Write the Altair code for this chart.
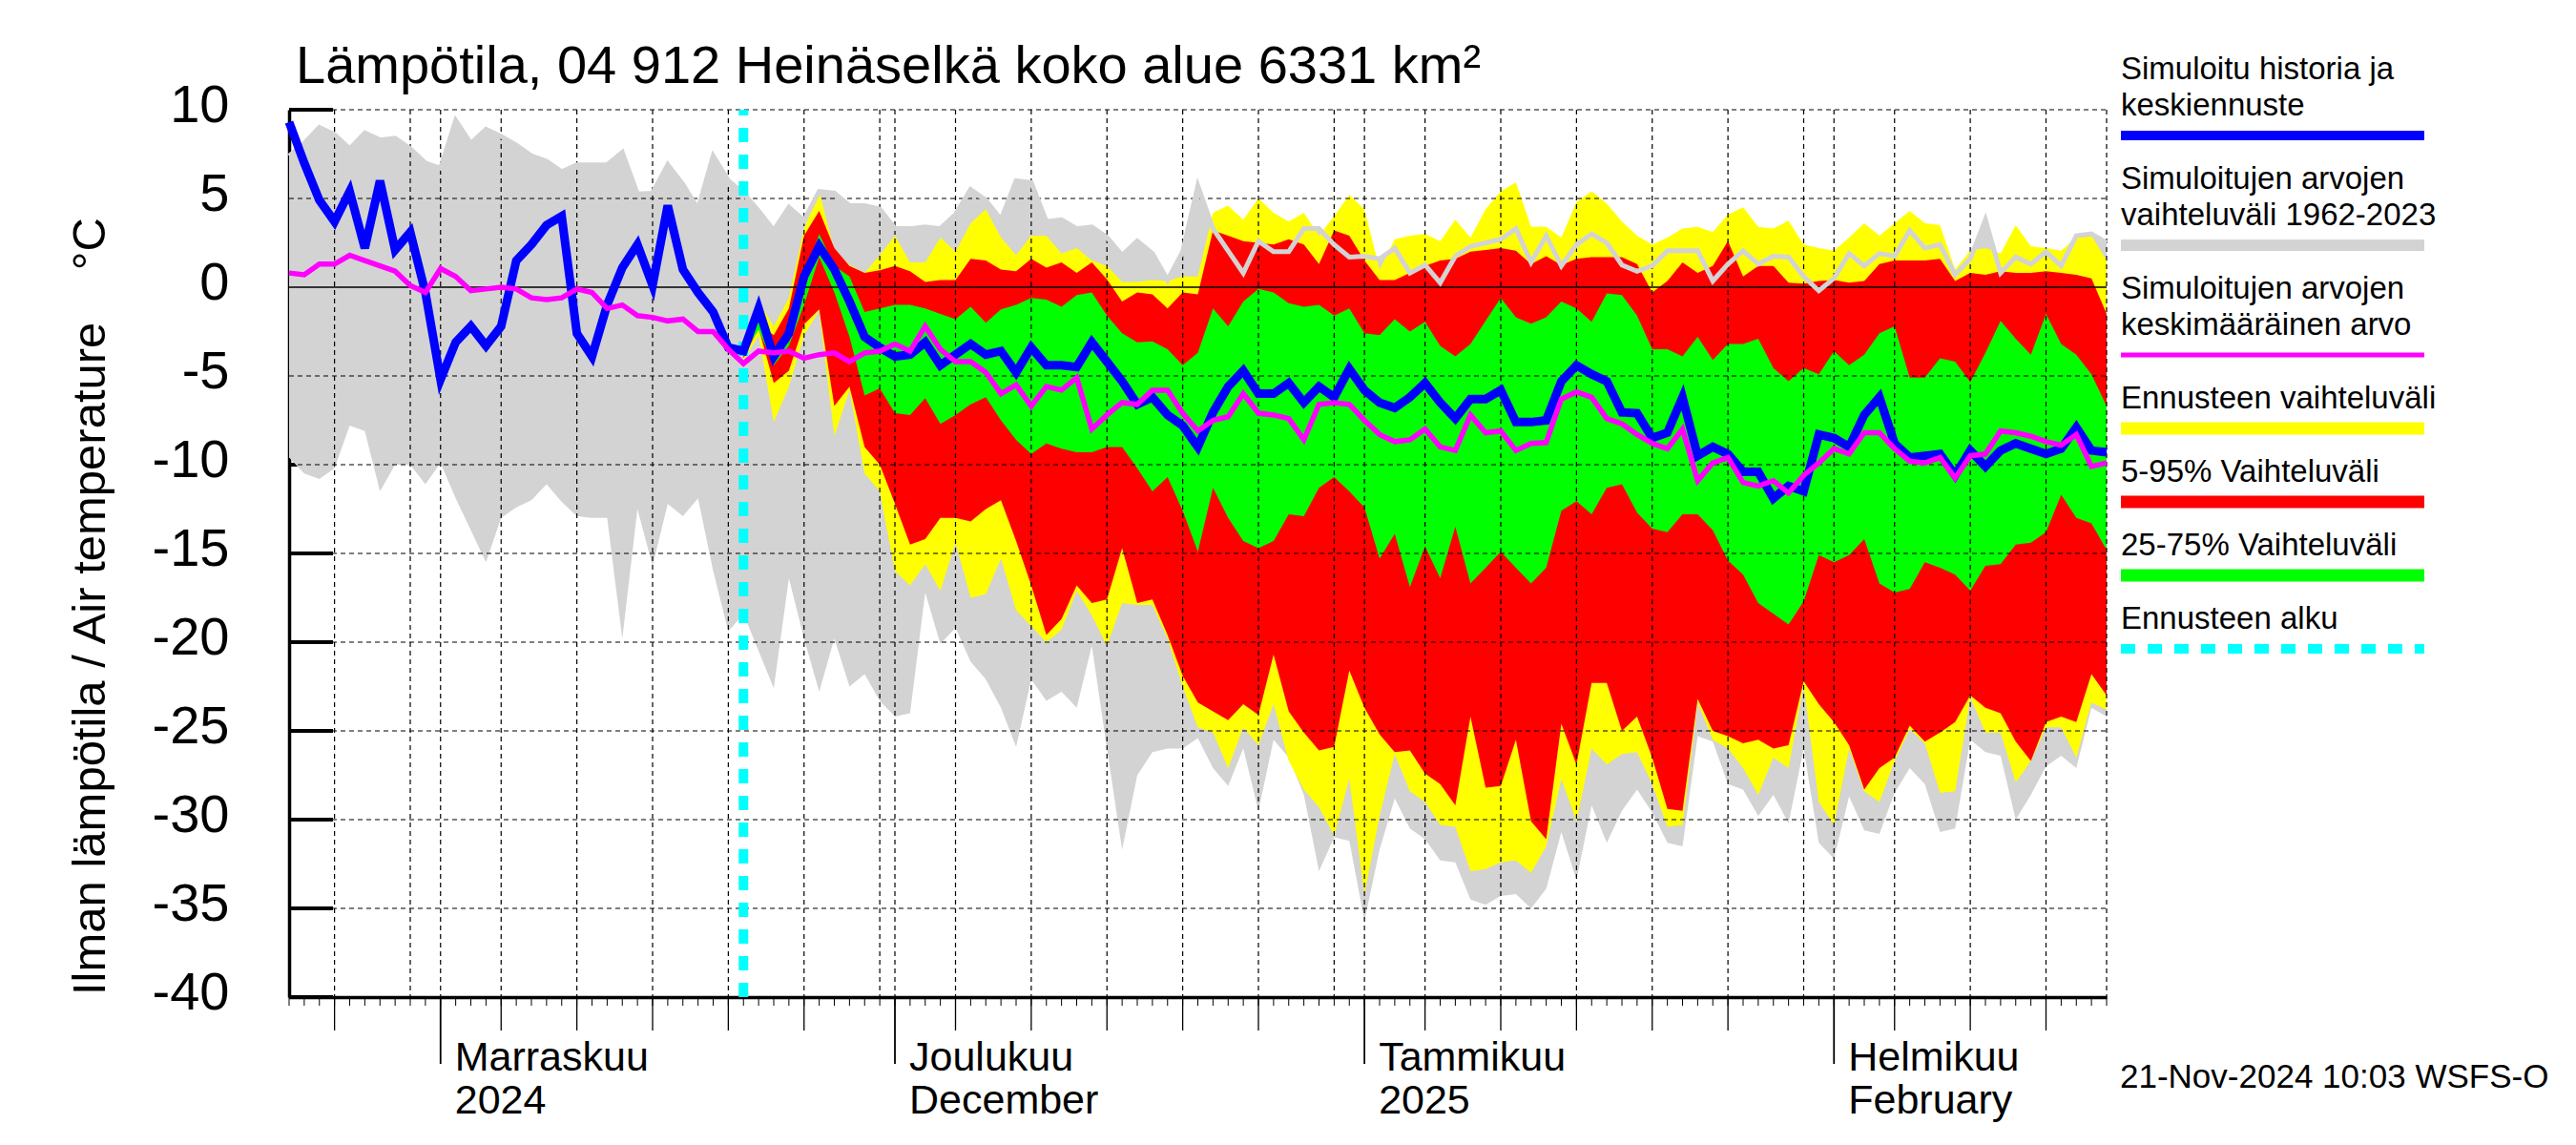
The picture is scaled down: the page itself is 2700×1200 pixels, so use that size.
import altair as alt
import pandas as pd

# ---------------- data ----------------
START = "2024-10-22"
N_DAYS = 121          # 2024-10-22 .. 2025-02-19
FC_START = 30         # index of 2024-11-21 (forecast start)

title_text = "Lämpötila, 04 912 Heinäselkä koko alue 6331 km²"
ytitle_text = "Ilman lämpötila / Air temperature\u00a0\u00a0\u00a0\u00a0°C"
stamp_text = "21-Nov-2024 10:03 WSFS-O"

# historical range 1962-2023 (upper / lower)
hist_max = [7.4, 8.1, 9.0, 8.6, 7.8, 8.7, 8.3, 8.4, 7.8, 7.0,
            6.7, 9.4, 8.1, 8.9, 8.5, 8.0, 7.4, 7.1, 6.5, 6.9,
            6.9, 6.9, 7.6, 5.25, 5.3, 6.9, 5.8, 4.4, 7.4, 6.0,
            5.3, 4.3, 3.2, 4.5, 3.75, 5.4, 5.3, 4.6, 4.6, 4.4,
            3.3, 3.3, 3.4, 3.3, 4.1, 5.5, 4.9, 3.8, 6.0, 5.9,
            3.7, 3.8, 3.3, 3.4, 2.8, 1.8, 2.6, 1.9, 0.4, 2.0,
            5.7, 3.3, 2.05, 0.8, 2.6, 2.0, 2.0, 3.3, 3.3, 2.4,
            1.7, 1.75, 1.6, 2.2, 0.8, 1.25, 0.25, 1.75, 2.3, 2.5,
            2.7, 3.3, 1.4, 2.9, 1.2, 2.4, 3.0, 2.5, 1.25, 0.9,
            1.2, 2.05, 2.05, 2.05, 0.35, 1.3, 2.05, 1.3, 1.75, 1.7,
            0.6, -0.2, 0.5, 1.9, 1.2, 1.9, 1.75, 3.2, 2.2, 2.4,
            0.7, 1.6, 3.8, 0.8, 1.7, 1.3, 2.0, 1.2, 2.9, 3.0,
            2.5]
hist_min = [-9.6, -10.5, -10.8, -10.2, -7.8, -8.1, -11.5, -10.0, -10.0, -11.1,
            -9.9, -11.9, -13.7, -15.5, -13.0, -12.4, -12.0, -11.1, -12.1, -12.9,
            -13.0, -13.0, -19.8, -12.5, -15.7, -12.2, -12.9, -11.9, -16.0, -19.4,
            -18.4, -20.5, -22.6, -16.4, -19.8, -22.8, -19.8, -22.5, -21.8, -23.3,
            -24.2, -24.0, -17.2, -20.1, -19.2, -21.1, -22.1, -23.7, -25.9, -22.1,
            -23.3, -22.8, -23.7, -20.2, -26.0, -31.7, -27.5, -26.2, -26.0, -26.0,
            -25.4, -27.1, -28.1, -26.0, -29.5, -25.5, -26.5, -28.6, -32.9, -31.0,
            -31.2, -35.7, -31.7, -28.8, -30.5, -31.1, -32.3, -32.4, -34.5, -34.8,
            -34.3, -34.2, -35.0, -33.9, -30.7, -33.4, -29.2, -31.3, -29.5, -28.3,
            -29.6, -31.3, -31.5, -25.3, -25.6, -28.0, -28.3, -29.8, -28.6, -30.2,
            -26.0, -31.3, -32.2, -28.7, -30.6, -30.8, -28.5, -27.1, -28.0, -30.7,
            -30.5, -25.5, -26.2, -26.4, -30.0, -28.6, -27.0, -26.4, -27.1, -23.7,
            -24.2]
# simulated history + median forecast
blue = [9.3, 7.0, 4.9, 3.7, 5.4, 2.2, 6.0, 2.1, 3.1, -0.3,
        -5.2, -3.1, -2.2, -3.3, -2.2, 1.5, 2.4, 3.5, 4.0, -2.6,
        -3.9, -1.0, 1.1, 2.4, 0.1, 4.6, 1.0, -0.3, -1.4, -3.4,
        -3.6, -1.2, -3.9, -2.6, 0.6, 2.3, 1.0, -0.8, -2.8, -3.4,
        -3.9, -3.8, -3.1, -4.4, -3.8, -3.2, -3.8, -3.6, -4.8, -3.4,
        -4.4, -4.4, -4.5, -3.1, -4.2, -5.3, -6.6, -6.2, -7.2, -7.8,
        -9.0, -7.05, -5.6, -4.7, -6.0, -6.0, -5.4, -6.5, -5.6, -6.2,
        -4.6, -5.8, -6.5, -6.8, -6.2, -5.4, -6.5, -7.4, -6.3, -6.3,
        -5.8, -7.6, -7.6, -7.5, -5.3, -4.4, -4.9, -5.3, -7.05, -7.1,
        -8.5, -8.2, -6.2, -9.5, -9.0, -9.4, -10.4, -10.4, -11.9, -11.2,
        -11.5, -8.3, -8.5, -9.0, -7.2, -6.2, -8.8, -9.6, -9.5, -9.4,
        -10.6, -9.2, -10.1, -9.2, -8.8, -9.1, -9.4, -9.1, -7.9, -9.2,
        -9.3]
# long-term mean of simulated values
magenta = [0.8, 0.7, 1.3, 1.3, 1.8, 1.5, 1.2, 0.9, 0.1, -0.3,
           1.05, 0.6, -0.2, -0.1, 0.0, -0.1, -0.6, -0.7, -0.6, -0.1,
           -0.3, -1.2, -1.0, -1.6, -1.7, -1.9, -1.8, -2.5, -2.5, -3.5,
           -4.3, -3.6, -3.7, -3.6, -4.0, -3.8, -3.7, -4.2, -3.7, -3.6,
           -3.2, -3.6, -2.2, -3.5, -4.2, -4.2, -4.8, -6.0, -5.5, -6.7,
           -5.6, -5.8, -5.1, -8.0, -7.2, -6.5, -6.6, -5.8, -5.8, -7.1,
           -8.1, -7.5, -7.3, -6.0, -7.1, -7.2, -7.4, -8.6, -6.6, -6.5,
           -6.6, -7.5, -8.3, -8.7, -8.6, -8.0, -9.0, -9.2, -7.2, -8.2,
           -8.1, -9.2, -8.8, -8.75, -6.3, -5.9, -6.2, -7.4, -7.7, -8.3,
           -8.8, -9.1, -8.0, -10.9, -9.9, -9.6, -11.0, -11.2, -10.9, -11.6,
           -10.6, -9.9, -9.1, -9.4, -8.2, -8.2, -9.1, -9.8, -9.9, -9.6,
           -10.75, -9.5, -9.4, -8.1, -8.2, -8.4, -8.7, -8.9, -8.3, -10.1,
           -9.9]
# forecast bands, from 2024-11-21 on
yel_hi = [-3.0, -0.8, -2.2, -0.6, 3.3, 5.4, 2.05, 1.25, 0.8, 1.8,
          2.9, 1.4, 1.4, 2.8, 2.0, 3.6, 4.4, 2.8, 1.8, 2.9,
          2.9, 1.9, 2.2, 1.5, 1.2, 0.3, 0.3, 0.4, 0.35, 0.6,
          0.6, 4.2, 4.6, 3.8, 5.0, 4.2, 3.7, 4.2, 2.9, 4.0,
          5.2, 4.4, 1.0, 2.7, 2.9, 3.0, 2.6, 3.8, 2.8, 4.4,
          5.4, 5.9, 3.4, 3.4, 2.8, 4.8, 5.4, 4.7, 3.7, 2.9,
          2.4, 2.8, 3.3, 3.4, 3.1, 4.1, 4.5, 3.4, 3.3, 3.75,
          2.4, 2.2, 2.05, 2.8, 3.6, 2.9, 3.6, 4.3, 3.6, 3.5,
          1.0, 2.05, 2.2, 1.9, 3.5, 2.3, 2.2, 2.05, 2.8, 2.9,
          1.5]
yel_lo = [-4.2, -2.7, -7.6, -5.6, -2.7, -1.3, -8.4, -5.8, -10.5, -11.5,
          -16.0, -16.8, -15.6, -17.1, -14.4, -17.5, -17.3, -15.3, -18.2, -19.1,
          -20.0, -19.3, -17.1, -18.5, -20.2, -17.8, -17.9, -17.9, -19.8, -22.5,
          -24.8, -25.1, -27.1, -24.8, -25.8, -23.5, -26.7, -28.3, -29.3, -30.9,
          -27.7, -34.2, -29.8, -26.3, -28.4, -29.0, -30.3, -30.4, -32.9, -32.8,
          -32.4, -32.3, -33.0, -31.5, -27.7, -30.1, -26.0, -26.9, -26.3, -26.2,
          -28.0, -30.4, -30.3, -23.4, -25.5, -26.0, -27.1, -28.6, -26.5, -27.1,
          -22.4, -29.0, -30.3, -26.0, -28.4, -29.0, -26.7, -24.9, -25.7, -28.5,
          -28.4, -23.1, -25.1, -25.1, -27.9, -26.7, -24.8, -24.8, -26.5, -23.4,
          -23.8]
red_hi = [-3.3, -2.1, -2.7, -1.2, 2.9, 4.3, 2.2, 1.2, 0.8, 0.95,
          1.2, 0.9, 0.3, 0.4, 0.4, 1.6, 1.5, 1.0, 0.9, 1.6,
          1.1, 1.4, 0.8, 1.4, 0.45, -0.8, -0.3, -0.4, -1.2, -0.3,
          -0.4, 3.2, 2.9, 2.6, 2.5, 2.4, 2.7, 2.4, 1.3, 3.2,
          2.9, 1.5, 0.4, 0.4, 0.8, 1.2, 1.5, 1.6, 2.0, 2.1,
          2.2, 2.05, 1.3, 1.75, 1.25, 1.6, 1.7, 1.7, 1.7, 1.3,
          -0.3, 0.35, 1.4, 0.8, 1.2, 2.6, 0.6, 1.2, 1.2, 0.25,
          0.2, 0.35, 0.4, 0.25, 0.35, 1.3, 1.5, 1.5, 1.5, 1.6,
          0.35, 0.8, 0.7, 0.9, 0.8, 0.8, 0.9, 0.8, 0.7, 0.5,
          -1.5]
red_lo = [-4.0, -2.3, -5.4, -4.7, -2.1, -1.25, -6.7, -5.6, -9.0, -10.0,
          -12.2, -14.5, -14.2, -13.0, -13.0, -13.2, -12.5, -12.0, -14.3, -16.8,
          -19.6, -18.7, -16.8, -17.8, -17.6, -14.7, -17.8, -17.6, -19.6, -21.9,
          -23.4, -23.9, -24.4, -23.5, -24.1, -20.7, -23.9, -25.1, -26.1, -25.9,
          -21.6, -23.7, -25.2, -26.2, -26.1, -27.4, -28.0, -29.2, -24.2, -28.2,
          -28.1, -25.5, -30.1, -31.1, -24.6, -26.9, -22.3, -22.3, -25.0, -24.2,
          -26.5, -29.4, -29.5, -23.2, -25.0, -25.3, -25.7, -25.5, -26.0, -25.8,
          -22.2, -23.5, -24.5, -25.8, -28.3, -27.1, -26.5, -24.7, -25.6, -25.1,
          -24.5, -23.0, -23.7, -24.0, -25.6, -26.7, -24.5, -24.2, -24.5, -21.8,
          -23.0]
grn_hi = [-3.5, -1.9, -3.5, -3.1, 0.45, 3.0, 1.2, 0.6, -1.4, -1.2,
          -1.0, -1.0, -1.2, -1.5, -1.8, -1.1, -2.0, -1.25, -1.0, -0.6,
          -0.7, -1.1, -0.45, -0.3, -1.6, -2.6, -3.1, -3.05, -3.5, -4.4,
          -3.7, -1.2, -2.2, -0.8, -0.1, -0.3, -0.9, -1.1, -1.0, -1.6,
          -1.2, -2.6, -2.7, -1.8, -2.5, -1.95, -3.3, -3.9, -3.2, -1.9,
          -0.6, -1.7, -2.05, -1.7, -0.8, -1.2, -1.95, -0.35, -0.45, -1.6,
          -3.5, -3.5, -3.9, -2.8, -4.1, -3.2, -3.2, -2.9, -4.55, -5.3,
          -4.55, -4.9, -3.6, -4.4, -3.8, -2.6, -2.2, -5.1, -5.1, -4.0,
          -4.2, -5.35, -3.7, -1.9, -2.9, -3.8, -1.5, -3.2, -3.8, -4.9,
          -6.7]
grn_lo = [-3.7, -2.4, -4.4, -3.3, -1.0, 1.7, -0.3, -2.8, -6.1, -5.7,
          -7.1, -7.2, -6.25, -7.7, -7.2, -6.6, -6.2, -7.5, -8.6, -9.4,
          -8.8, -9.1, -9.3, -9.3, -9.0, -9.0, -10.2, -11.5, -10.7, -12.6,
          -14.9, -11.3, -13.0, -14.3, -14.7, -14.3, -12.8, -12.9, -11.3, -10.7,
          -11.5, -12.4, -15.3, -13.9, -16.9, -14.6, -16.4, -13.5, -16.7, -15.8,
          -14.9, -15.8, -16.7, -15.8, -12.6, -12.05, -12.8, -11.3, -11.1, -12.7,
          -13.6, -13.8, -12.8, -12.8, -13.7, -15.4, -16.2, -17.8, -18.4, -19.0,
          -17.7, -15.1, -15.5, -15.1, -14.2, -16.7, -17.2, -17.0, -15.5, -15.8,
          -16.2, -17.1, -15.7, -15.6, -14.5, -14.4, -13.8, -11.7, -13.0, -13.3,
          -14.8]

y_ticks = [10, 5, 0, -5, -10, -15, -20, -25, -30, -35, -40]
y_grid = [10, 5, -5, -10, -15, -20, -25, -30, -35]
month_dates = ["2024-11-01", "2024-12-01", "2025-01-01", "2025-02-01"]
month_labels = ["Marraskuu\n2024", "Joulukuu\nDecember", "Tammikuu\n2025", "Helmikuu\nFebruary"]
five_day_dates = ["2024-10-25",
                  "2024-11-05", "2024-11-10", "2024-11-15", "2024-11-20", "2024-11-25",
                  "2024-12-05", "2024-12-10", "2024-12-15", "2024-12-20", "2024-12-25",
                  "2025-01-05", "2025-01-10", "2025-01-15", "2025-01-20", "2025-01-25",
                  "2025-02-05", "2025-02-10", "2025-02-15"]
grid_dates = ["2024-10-25", "2024-10-30", "2024-11-01", "2024-11-05", "2024-11-10",
              "2024-11-15", "2024-11-20", "2024-11-25", "2024-11-30", "2024-12-01",
              "2024-12-05", "2024-12-10", "2024-12-15", "2024-12-20", "2024-12-25",
              "2024-12-30", "2025-01-01", "2025-01-05", "2025-01-10", "2025-01-15",
              "2025-01-20", "2025-01-25", "2025-01-30", "2025-02-01", "2025-02-05",
              "2025-02-10", "2025-02-15", "2025-02-19"]

legend_labels = [["Simuloitu historia ja", "keskiennuste"],
                 ["Simuloitujen arvojen", "vaihteluväli 1962-2023"],
                 ["Simuloitujen arvojen", "keskimääräinen arvo"],
                 ["Ennusteen vaihteluväli"],
                 ["5-95% Vaihteluväli"],
                 ["25-75% Vaihteluväli"],
                 ["Ennusteen alku"]]

# ---------------- styles ----------------
C_BLUE, C_GREY, C_MAG = "#0000ff", "#d3d3d3", "#ff00ff"
C_YEL, C_RED, C_GRN, C_CYAN = "#ffff00", "#ff0000", "#00ff00", "#00ffff"
legend_colors = [C_BLUE, C_GREY, C_MAG, C_YEL, C_RED, C_GRN, C_CYAN]
legend_widths = [10, 12, 5, 13, 13, 13, 10]
FONT = "Liberation Sans"
W, H = 1905, 930
LEG_FS, LEG_LH = 33, 38

for arr in (hist_max, hist_min, blue, magenta):
    assert len(arr) == N_DAYS, len(arr)
for arr in (yel_hi, yel_lo, red_hi, red_lo, grn_hi, grn_lo):
    assert len(arr) == N_DAYS - FC_START, len(arr)


def iso(d):
    return pd.Timestamp(d).strftime("%Y-%m-%dT00:00:00Z")


def ms(d):
    return int(pd.Timestamp(d, tz="UTC").timestamp() * 1000)


days = [iso(d) for d in pd.date_range(START, periods=N_DAYS, freq="D")]
hist = pd.DataFrame({"date": days, "hmax": hist_max, "hmin": hist_min,
                     "blue": blue, "mag": magenta})
fc = pd.DataFrame({"date": days[FC_START:], "yhi": yel_hi, "ylo": yel_lo,
                   "rhi": red_hi, "rlo": red_lo, "ghi": grn_hi, "glo": grn_lo})

xscale = alt.Scale(type="utc", domain=[ms("2024-10-22"), ms("2025-02-19")], nice=False)
xaxis = alt.Axis(labels=False, ticks=False, grid=False, domain=True, domainWidth=3.5,
                 domainColor="black", title=None, zindex=0)
yscale = alt.Scale(domain=[-40, 10], nice=False, zero=False)
yaxis = alt.Axis(values=y_ticks, labelFontSize=56, labelFont=FONT, labelColor="black",
                 labelPadding=63, tickSize=0, ticks=False, domain=True, domainWidth=3.5,
                 domainColor="black", grid=False, title=None, labelOverlap=False,
                 labelFlush=False, labelOffset=-5, labelExpr="'' + datum.value", zindex=0)


def X(field="date"):
    return alt.X(f"{field}:T", scale=xscale, axis=xaxis)


def Y(field):
    return alt.Y(f"{field}:Q", scale=yscale, axis=yaxis)


def one(text=""):
    return alt.Data(values=[{"t": text}])


GRID_DASH = [5, 4]
layers = []
# inward y ticks (behind the areas)
layers.append(alt.Chart(pd.DataFrame({"v": y_ticks})).mark_rule(color="black", strokeWidth=4)
              .encode(y=Y("v"), x=alt.value(0), x2=alt.value(46)))
# areas
layers.append(alt.Chart(hist).mark_area(color=C_GREY, opacity=1)
              .encode(x=X(), y=Y("hmax"), y2="hmin:Q"))
layers.append(alt.Chart(fc).mark_area(color=C_YEL, opacity=1)
              .encode(x=X(), y=Y("yhi"), y2="ylo:Q"))
layers.append(alt.Chart(fc).mark_area(color=C_RED, opacity=1)
              .encode(x=X(), y=Y("rhi"), y2="rlo:Q"))
layers.append(alt.Chart(fc).mark_area(color=C_GRN, opacity=1)
              .encode(x=X(), y=Y("ghi"), y2="glo:Q"))
# grid
layers.append(alt.Chart(pd.DataFrame({"v": y_grid})).mark_rule(color="black", strokeWidth=1.2,
                                                               strokeDash=GRID_DASH)
              .encode(y=Y("v"), x=alt.value(0), x2=alt.value(W)))
layers.append(alt.Chart(pd.DataFrame({"v": [0]})).mark_rule(color="black", strokeWidth=1.3)
              .encode(y=Y("v"), x=alt.value(0), x2=alt.value(W)))
layers.append(alt.Chart(pd.DataFrame({"date": [iso(d) for d in grid_dates]}))
              .mark_rule(color="black", strokeWidth=1.2, strokeDash=GRID_DASH)
              .encode(x=X(), y=alt.value(0), y2=alt.value(H)))
# historical max as line, forecast start, mean and median lines
layers.append(alt.Chart(hist).mark_line(color=C_GREY, strokeWidth=5)
              .encode(x=X(), y=Y("hmax")))
layers.append(alt.Chart(pd.DataFrame({"date": [days[FC_START]]}))
              .mark_rule(color=C_CYAN, strokeWidth=10, strokeDash=[15, 13])
              .encode(x=X(), y=alt.value(H), y2=alt.value(0)))
layers.append(alt.Chart(hist).mark_line(color=C_BLUE, strokeWidth=9, strokeJoin="miter")
              .encode(x=X(), y=Y("blue")))
layers.append(alt.Chart(hist).mark_line(color=C_MAG, strokeWidth=5.5)
              .encode(x=X(), y=Y("mag")))
# x ticks
layers.append(alt.Chart(pd.DataFrame({"date": days})).mark_rule(color="black", strokeWidth=1)
              .encode(x=X(), y=alt.value(H), y2=alt.value(H + 9)))
layers.append(alt.Chart(pd.DataFrame({"date": [iso(d) for d in five_day_dates]}))
              .mark_rule(color="black", strokeWidth=1.3)
              .encode(x=X(), y=alt.value(H), y2=alt.value(H + 35)))
layers.append(alt.Chart(pd.DataFrame({"date": [iso(d) for d in month_dates]}))
              .mark_rule(color="black", strokeWidth=1.8)
              .encode(x=X(), y=alt.value(H), y2=alt.value(H + 70)))
layers.append(alt.Chart(pd.DataFrame({"date": [iso(d) for d in month_dates], "t": month_labels}))
              .mark_text(align="left", baseline="alphabetic", dx=15, fontSize=43, font=FONT,
                         lineBreak="\n", lineHeight=45, color="black")
              .encode(x=X(), y=alt.value(1007), text="t:N"))
# texts
layers.append(alt.Chart(one(title_text)).mark_text(align="left", baseline="alphabetic",
                                                    fontSize=56, font=FONT, color="black")
              .encode(text="t:N", x=alt.value(7), y=alt.value(-28)))
layers.append(alt.Chart(one(ytitle_text)).mark_text(align="left", baseline="middle", angle=270,
                                                     fontSize=49, font=FONT, color="black")
              .encode(text="t:N", x=alt.value(-208), y=alt.value(928)))
layers.append(alt.Chart(one(stamp_text)).mark_text(align="left", baseline="alphabetic",
                                                    fontSize=35, font=FONT, color="black")
              .encode(text="t:N", x=alt.value(1919), y=alt.value(1025)))
# legend: text lines above a swatch line
last_base = 6
for lines, col, sw in zip(legend_labels, legend_colors, legend_widths):
    n = len(lines)
    for i, line in enumerate(lines):
        yb = last_base - (n - 1 - i) * LEG_LH
        layers.append(alt.Chart(one(line)).mark_text(align="left", baseline="alphabetic",
                                                      fontSize=LEG_FS, font=FONT, color="black")
                      .encode(text="t:N", x=alt.value(1920), y=alt.value(yb)))
    bar_y = last_base + 21
    kw = {"strokeDash": [15, 13]} if col == C_CYAN else {}
    layers.append(alt.Chart(one()).mark_rule(color=col, strokeWidth=sw, **kw)
                  .encode(x=alt.value(1920), x2=alt.value(2238), y=alt.value(bar_y)))
    # next entry: its last line sits this far below the current swatch
    nxt = legend_labels[min(legend_labels.index(lines) + 1, len(legend_labels) - 1)]
    last_base = bar_y + 56 + (len(nxt) - 1) * LEG_LH

chart = (alt.layer(*layers)
         .properties(width=W, height=H,
                     padding={"left": 295, "top": 107, "right": 484, "bottom": 147},
                     autosize=alt.AutoSizeParams(type="none"),
                     background="white")
         .configure_view(stroke=None))

chart.save("out.html", embed_options={"renderer": "svg", "actions": False})
